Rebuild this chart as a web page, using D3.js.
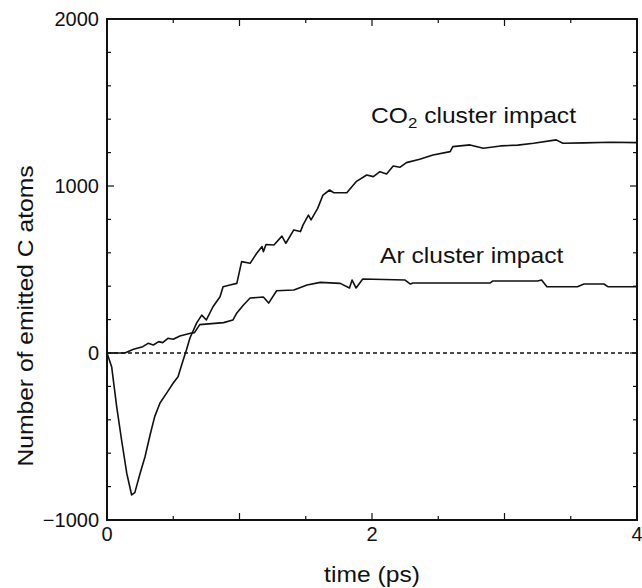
<!DOCTYPE html>
<html>
<head>
<meta charset="utf-8">
<script src="https://cdn.jsdelivr.net/npm/d3@7"></script>
<style>
  html, body { margin: 0; padding: 0; background: #fff; }
  svg { display: block; }
  text { font-family: "Liberation Sans", Arial, Helvetica, sans-serif; fill: #111; }
</style>
</head>
<body>
<svg id="chart" width="642" height="588"></svg>
<script>
// ---- data ----
const co2Time = [0, 0.035, 0.073, 0.11, 0.149, 0.186, 0.21, 0.25, 0.287, 0.325, 0.36, 0.40, 0.45, 0.50, 0.536, 0.575, 0.60, 0.626, 0.677, 0.715, 0.75, 0.80, 0.853, 0.876, 0.928, 0.98, 1.016, 1.08, 1.13, 1.17, 1.18, 1.20, 1.26, 1.32, 1.35, 1.41, 1.46, 1.48, 1.52, 1.54, 1.59, 1.63, 1.68, 1.71, 1.81, 1.88, 1.96, 2.01, 2.06, 2.11, 2.16, 2.21, 2.26, 2.36, 2.46, 2.59, 2.61, 2.74, 2.84, 2.97, 3.10, 3.22, 3.39, 3.44, 3.60, 3.80, 4.0];
const co2Value = [0, -82, -321, -521, -720, -850, -836, -720, -621, -491, -381, -299, -240, -180, -142, -42, 20, 90, 180, 227, 198, 277, 337, 397, 407, 417, 547, 537, 597, 637, 607, 650, 647, 700, 657, 737, 727, 767, 826, 797, 866, 946, 976, 960, 960, 1026, 1066, 1056, 1086, 1072, 1120, 1112, 1140, 1160, 1186, 1206, 1236, 1246, 1226, 1240, 1245, 1256, 1276, 1256, 1258, 1262, 1260];

const arTime = [0, 0.135, 0.2, 0.27, 0.31, 0.35, 0.39, 0.42, 0.46, 0.50, 0.55, 0.63, 0.66, 0.70, 0.88, 0.95, 0.98, 1.03, 1.08, 1.18, 1.22, 1.28, 1.41, 1.51, 1.61, 1.76, 1.83, 1.85, 1.88, 1.93, 2.25, 2.29, 2.31, 2.89, 2.91, 3.25, 3.28, 3.32, 3.55, 3.60, 3.75, 3.78, 4.0];
const arValue = [0, 0, 22, 38, 58, 48, 68, 62, 88, 82, 102, 118, 122, 170, 182, 197, 240, 287, 329, 335, 299, 373, 377, 407, 423, 417, 389, 437, 389, 443, 437, 413, 419, 419, 431, 431, 437, 397, 397, 413, 413, 397, 397];

const xTickLabels = [0, 2, 4];
const yTickLabels = [-1000, 0, 1000, 2000];
const xDomain = [0, 4];
const yDomain = [-1000, 2000];

// ---- layout ----
const svg = d3.select("#chart");
const mLeft = 107, mRight = 637, mTop = 19, mBottom = 520;
const x = d3.scaleLinear().domain(xDomain).range([mLeft, mRight]);
const y = d3.scaleLinear().domain(yDomain).range([mBottom, mTop]);

const tickFont = 20;
const titleFont = 22;
const stretch = 1.12;

// minor/major ticks (inside)
const xMinor = d3.range(0, 4.0001, 0.5);
const yMinor = d3.range(-1000, 2000.001, 200);

const ticks = svg.append("g").attr("stroke", "#111").attr("stroke-width", 1.2);
xMinor.forEach(t => {
  const len = Math.abs(t - Math.round(t)) < 1e-6 ? 7 : 4;
  ticks.append("line").attr("x1", x(t)).attr("x2", x(t)).attr("y1", mBottom).attr("y2", mBottom - len);
  ticks.append("line").attr("x1", x(t)).attr("x2", x(t)).attr("y1", mTop).attr("y2", mTop + len);
});
yMinor.forEach(v => {
  const len = Math.abs(v % 1000) < 1e-6 ? 7 : 4;
  ticks.append("line").attr("x1", mLeft).attr("x2", mLeft + len).attr("y1", y(v)).attr("y2", y(v));
  ticks.append("line").attr("x1", mRight).attr("x2", mRight - len).attr("y1", y(v)).attr("y2", y(v));
});

// zero dashed line
svg.append("line")
  .attr("x1", x(0)).attr("x2", x(4)).attr("y1", y(0)).attr("y2", y(0))
  .attr("stroke", "#111").attr("stroke-width", 1.3).attr("stroke-dasharray", "4,3");

// curves
const line = d3.line().x(d => x(d[0])).y(d => y(d[1]));
const co2 = co2Time.map((t, i) => [t, co2Value[i]]);
const ar = arTime.map((t, i) => [t, arValue[i]]);

svg.append("path").datum(co2).attr("d", line)
  .attr("fill", "none").attr("stroke", "#111").attr("stroke-width", 1.6).attr("stroke-linejoin", "round");
svg.append("path").datum(ar).attr("d", line)
  .attr("fill", "none").attr("stroke", "#111").attr("stroke-width", 1.6).attr("stroke-linejoin", "round");

// frame
svg.append("rect").attr("x", mLeft).attr("y", mTop).attr("width", mRight - mLeft).attr("height", mBottom - mTop)
  .attr("fill", "none").attr("stroke", "#111").attr("stroke-width", 2);

// tick labels
svg.append("g").selectAll("text").data(xTickLabels).join("text")
  .attr("x", d => x(d)).attr("y", mBottom + 21)
  .attr("text-anchor", "middle").attr("font-size", tickFont)
  .text(d => d);

svg.append("g").selectAll("text").data(yTickLabels).join("text")
  .attr("x", mLeft - 8).attr("y", d => y(d) + 7)
  .attr("text-anchor", "end").attr("font-size", tickFont)
  .text(d => d < 0 ? "\u2212" + Math.abs(d) : d);

// axis titles
svg.append("g").attr("transform", `translate(${x(2)}, 582) scale(${stretch},1)`)
  .append("text").attr("text-anchor", "middle").attr("font-size", titleFont).text("time (ps)");

svg.append("g").attr("transform", `translate(33, 316) rotate(-90) scale(${stretch},1)`)
  .append("text").attr("text-anchor", "middle").attr("font-size", titleFont)
  .text("Number of emitted C atoms");

// annotations
const co2G = svg.append("g").attr("transform", `translate(371, 123) scale(${stretch},1)`);
const co2Label = co2G.append("text").attr("font-size", titleFont);
co2Label.append("tspan").text("CO");
co2Label.append("tspan").attr("font-size", 15).attr("dy", 5).text("2");
co2Label.append("tspan").attr("dy", -5).text(" cluster impact");

svg.append("g").attr("transform", `translate(380, 263) scale(${stretch},1)`)
  .append("text").attr("font-size", titleFont).text("Ar cluster impact");
</script>
</body>
</html>
